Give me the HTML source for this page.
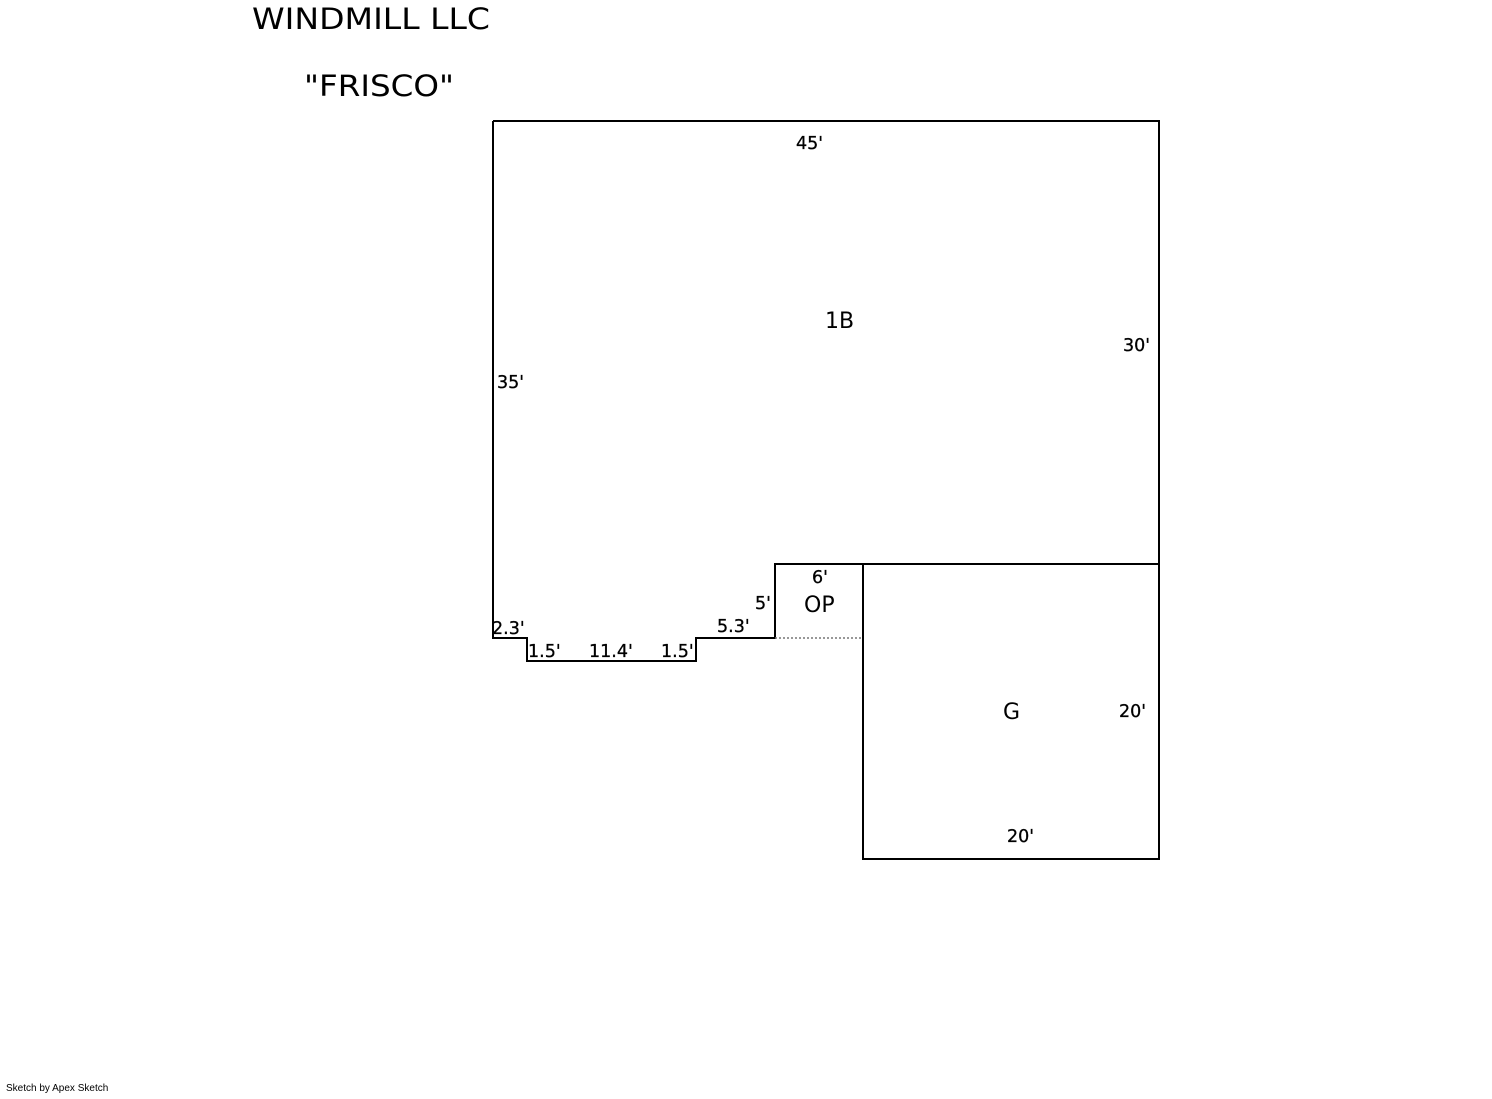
<!DOCTYPE html>
<html><head><style>
body{margin:0;background:#fff;}
svg text{font-family:"DejaVu Sans","Liberation Sans",sans-serif;fill:#000;}
</style></head><body>
<svg width="1492" height="1094" xmlns="http://www.w3.org/2000/svg">
<g fill="none" stroke="#000" stroke-width="2">
<path d="M493,121 H1159 V564 H863 V859 H1159 V564"/>
<path d="M493,121 V638 H527 V661 H696 V638 H775 V564 H863"/>
</g>
<line x1="775" y1="638" x2="863" y2="638" stroke="#777" stroke-width="1.5" stroke-dasharray="2,2"/>
<text x="252" y="29" font-size="29" textLength="238" lengthAdjust="spacingAndGlyphs">WINDMILL LLC</text>
<text x="304" y="96" font-size="29" textLength="150" lengthAdjust="spacingAndGlyphs">"FRISCO"</text>
<g font-size="17.5" stroke="#000" stroke-width="0.3">
<text x="796" y="149">45'</text>
<text x="1123" y="351">30'</text>
<text x="497" y="388">35'</text>
<text x="812" y="583">6'</text>
<text x="755" y="609">5'</text>
<text x="492" y="634">2.3'</text>
<text x="717" y="632">5.3'</text>
<text x="528" y="657">1.5'</text>
<text x="589" y="657">11.4'</text>
<text x="661" y="657">1.5'</text>
<text x="1119" y="717">20'</text>
<text x="1007" y="842">20'</text>
</g>
<g font-size="22">
<text x="825" y="328">1B</text>
<text x="804" y="612">OP</text>
<text x="1003" y="719">G</text>
</g>
<text x="6" y="1091" font-size="10" style="font-family:'Liberation Sans',sans-serif">Sketch by Apex Sketch</text>
</svg>
</body></html>
